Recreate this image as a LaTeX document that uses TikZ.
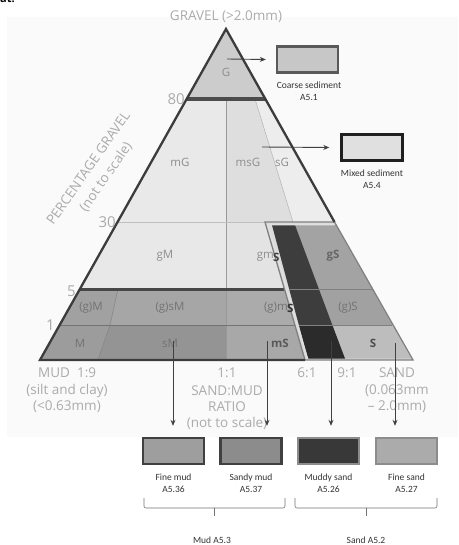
\documentclass[tikz,border=0pt]{standalone}
\usepackage{fontspec}
\setmainfont{Open Sans}
\newfontfamily\carl{Carlito}
\usetikzlibrary{arrows.meta,calc}
\definecolor{axisgray}{HTML}{ABABAB}
\definecolor{labgray}{HTML}{8E8E8E}
\definecolor{outline}{HTML}{3C3C3C}
\definecolor{panel}{HTML}{FAFAFA}
\tikzset{
  axislab/.style={text=axisgray, font=\fontsize{13.5}{15}\selectfont, inner sep=0pt, align=center},
  numlab/.style={text=axisgray, font=\fontsize{15}{16}\selectfont, inner sep=0pt},
  zonelab/.style={text=labgray, font=\fontsize{11.5}{12}\selectfont, inner sep=0pt},
  rowlab/.style={text=#1, font=\fontsize{11.5}{12}\selectfont, inner sep=0pt},
  boxlab/.style={text=black!80, font=\carl\fontsize{9.5}{11.5}\selectfont, align=center, inner sep=0pt},
  legbox/.style={minimum width=61pt, minimum height=26pt, inner sep=0pt, line width=2.4pt},
  arr/.style={draw=black!75, line width=0.9pt, -{Stealth[length=6pt,width=5pt]}},
  brace/.style={draw=black!55, line width=0.6pt, rounded corners=2pt},
}
\begin{document}
\begin{tikzpicture}[x=1pt,y=-1pt]
\useasboundingbox (0,0) rectangle (458,545);
\fill[white] (0,0) rectangle (458,545);
\fill[panel] (7,17) rectangle (458,437);
% cut-off heading remnant
\node[anchor=north west, inner sep=0pt, font=\bfseries\fontsize{11}{12}\selectfont] (head) at (0,-5) {at.};

% ---------- region fills ----------
% G
\fill[black!20] (226,29) -- (186.7,99) -- (265.3,99) -- cycle;
% mG, msG, sG
\fill[black!8.5] (186.7,99) -- (226,99) -- (226,222) -- (117.5,222) -- cycle;
\fill[black!13] (226,99) -- (255,99) -- (293,222) -- (226,222) -- cycle;
\fill[black!7] (255,99) -- (265.3,99) -- (334.5,222) -- (293,222) -- cycle;
% gM, gmS
\fill[black!9] (117.5,222) -- (226,222) -- (226,289) -- (79.9,289) -- cycle;
\fill[black!11] (226,222) -- (265,222) -- (284.4,289) -- (226,289) -- cycle;
% (g)M, (g)sM, (g)mS
\fill[black!37] (79.9,289) -- (118,289) -- (110,325) -- (59.7,325) -- cycle;
\fill[black!35] (118,289) -- (226,289) -- (226,325) -- (110,325) -- cycle;
\fill[black!33] (226,289) -- (284.4,289) -- (294.9,325) -- (226,325) -- cycle;
% M, sM, mS
\fill[black!39] (59.7,325) -- (110,325) -- (98,360) -- (40,360) -- cycle;
\fill[black!42] (110,325) -- (226,325) -- (226,360) -- (98,360) -- cycle;
\fill[black!34] (226,325) -- (294.9,325) -- (305,360) -- (226,360) -- cycle;
% sand frame area
\fill[black!14] (265,222) -- (334.5,222) -- (413,360) -- (305,360) -- cycle;
\fill[black!36] (272,225) -- (335.5,225) -- (372.1,289) -- (289.2,289) -- cycle;
\fill[black!37] (289.2,289) -- (372.1,289) -- (392.3,325) -- (298.9,325) -- cycle;
\fill[black!26] (298.9,325) -- (392.3,325) -- (411,358.5) -- (308,358.5) -- cycle;
% muddy sand strip
\fill[black!76] (272,225) -- (295,225) -- (332.3,325) -- (298.9,325) -- cycle;
\fill[black!83] (298.9,325) -- (332.3,325) -- (345,358.5) -- (308,358.5) -- cycle;

% ---------- internal lines ----------
\draw[black!40, line width=0.5pt] (226,99) -- (226,360);
\draw[black!30, line width=0.5pt] (255,99) -- (293,222);
\draw[black!25, line width=0.6pt] (117.5,222) -- (265,222);
\draw[black!50, line width=0.5pt] (118,289) -- (110,325) -- (98,360);
\draw[black!55, line width=0.7pt] (59.7,325) -- (294.9,325);
\draw[black!50, line width=0.7pt] (289.2,289) -- (372.1,289);
\draw[black!50, line width=0.7pt] (298.9,325) -- (392.3,325);
\draw[black!72, line width=3pt] (79.9,289) -- (284.4,289);
\draw[black!70, line width=4pt] (186.7,99) -- (265.3,99);
% frame of sand area
\draw[black!12, line width=1.4pt] (334,224.6) -- (267.6,224.6) -- (307.6,359);
\draw[black!50, line width=1.3pt] (265,222) -- (334.5,222) -- (413,360) -- (305,360) -- cycle;
% triangle outline
\draw[outline, line width=2.3pt, line join=miter] (305,360) -- (40,360) -- (226,29) -- (334.5,222);

% ---------- zone labels ----------
\node[zonelab] (lG) at (226,72) {G};
\node[zonelab] (lmG) at (180,162) {mG};
\node[zonelab] (lmsG) at (248,162) {msG};
\node[zonelab] (lsG) at (282,162) {sG};
\node[zonelab] (lgM) at (165,256) {gM};
\node[zonelab, anchor=east] (lgmS) at (274,257) {gm};
\node[rowlab=black!75, anchor=west] (lgmS2) at (273,257) {\textbf{S}};
\node[rowlab=black!60, font=\bfseries\fontsize{11.5}{12}\selectfont] (lgS) at (333,256) {gS};
\node[rowlab=black!55] (lgmM) at (91,308) {(g)M};
\node[rowlab=black!55] (lgsM) at (170,308) {(g)sM};
\node[rowlab=black!55, anchor=east] (lgmSa) at (288,308) {(g)m};
\node[rowlab=black!80, anchor=west] (lgmSb) at (287,308) {\textbf{S}};
\node[rowlab=black!55] (lgS2) at (348,308) {(g)S};
\node[rowlab=black!55] (lM) at (80,343) {M};
\node[rowlab=black!55] (lsM) at (170,343) {sM};
\node[rowlab=black!65, font=\bfseries\fontsize{11.5}{12}\selectfont] (lmS) at (280,343) {mS};
\node[rowlab=black!70, font=\bfseries\fontsize{11.5}{12}\selectfont] (lS) at (373,343) {S};

% ---------- axis labels ----------
\node[axislab] (gravel) at (226,17) {GRAVEL (>2.0mm)};
\node[numlab, anchor=east] (n80) at (185,99) {80};
\node[numlab, anchor=east] (n30) at (116,222) {30};
\node[numlab, anchor=east] (n5) at (76,291) {5};
\node[numlab, anchor=east] (n1) at (55,325) {1};
\node[axislab, rotate=55] (pg) at (88,168) {PERCENTAGE GRAVEL};
\node[axislab, rotate=55] (pgn) at (106,177) {(not to scale)};
\node[axislab, anchor=west] (mud) at (38,373) {MUD\ \ 1:9};
\node[axislab] (r11) at (227,373) {1:1};
\node[axislab] (r61) at (307,373) {6:1};
\node[axislab] (r91) at (347,373) {9:1};
\node[axislab] (sand) at (397,373) {SAND};
\node[axislab] (silt) at (67,391) {(silt and clay)};
\node[axislab] (lt063) at (67,407) {(<0.63mm)};
\node[axislab] (smud) at (227,391) {SAND:MUD};
\node[axislab] (ratio) at (227,407) {RATIO};
\node[axislab] (nts) at (227,423) {(not to scale)};
\node[axislab] (s063) at (397,391) {(0.063mm};
\node[axislab] (s20) at (397,407) {– 2.0mm)};

% ---------- upper legend ----------
\node[legbox, draw=black!65, fill=black!22] (coarse) at (307.5,59.5) {};
\node[boxlab] (coarset) at (309,91) {Coarse sediment\\A5.1};
\node[legbox, draw=black!88, fill=black!12] (mixed) at (372,147.5) {};
\node[boxlab] (mixedt) at (372,179) {Mixed sediment\\A5.4};
\coordinate (aG) at (227,59);
\coordinate (amix) at (262,147);
\draw[arr] (aG) -- ($(coarse.west)+(-10,0)$);
\draw[arr] (amix) -- ($(mixed.west)+(-11,0)$);

% ---------- lower legend ----------
\node[legbox, draw=black!75, fill=black!38] (fmud) at (173.5,451) {};
\node[legbox, draw=black!75, fill=black!45] (sdmud) at (251,451) {};
\node[legbox, draw=black!45, fill=black!78] (mdsand) at (328.5,451) {};
\node[legbox, draw=black!45, fill=black!33] (fsand) at (406.5,451) {};
\node[boxlab] (fmudt) at (173.5,483) {Fine mud\\A5.36};
\node[boxlab] (sdmudt) at (251,483) {Sandy mud\\A5.37};
\node[boxlab] (mdsandt) at (328.5,483) {Muddy sand\\A5.26};
\node[boxlab] (fsandt) at (406.5,483) {Fine sand\\A5.27};
\coordinate (s1) at (173,341);
\coordinate (s2) at (267,341);
\coordinate (s3) at (331,341);
\coordinate (s4) at (395,343);
\draw[arr] (s1) -- ($(s1 |- fmud.north)+(0,-11)$);
\draw[arr] (s2) -- ($(s2 |- sdmud.north)+(0,-11)$);
\draw[arr] (s3) -- ($(s3 |- mdsand.north)+(0,-11)$);
\draw[arr] (s4) -- ($(s4 |- fsand.north)+(0,-11)$);

% braces
\draw[brace] (144,498) |- (285,508) -- (285,498);
\draw[brace] (214.5,508) -- (214.5,516);
\draw[brace] (295,498) |- (437,508) -- (437,498);
\draw[brace] (366,508) -- (366,516);
\node[boxlab] (mudg) at (212,540) {Mud A5.3};
\node[boxlab] (sandg) at (366,540) {Sand A5.2};
\end{tikzpicture}
\end{document}
